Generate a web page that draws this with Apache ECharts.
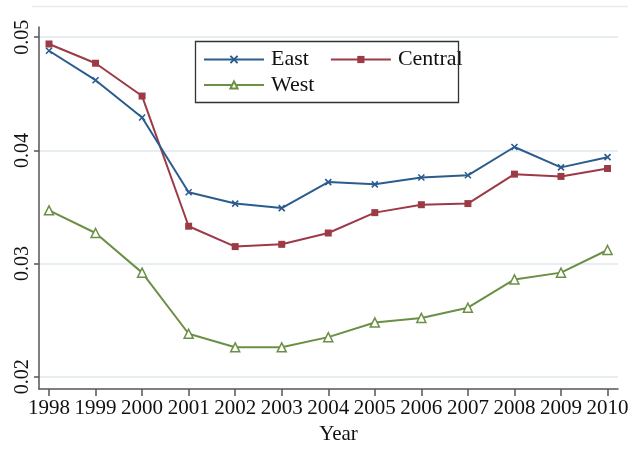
<!DOCTYPE html>
<html>
<head>
<meta charset="utf-8">
<script src="https://cdn.jsdelivr.net/npm/echarts@6/dist/echarts.min.js"></script>
<style>
  html, body { margin: 0; padding: 0; background: #fff; }
  #chart { width: 632px; height: 450px; }
</style>
</head>
<body>
<div id="chart"></div>
<script>
// Regional series by year
const years = [1998, 1999, 2000, 2001, 2002, 2003, 2004, 2005, 2006, 2007, 2008, 2009, 2010];
const east = [0.0488, 0.0462, 0.0429, 0.0363, 0.0353, 0.0349, 0.0372, 0.0370, 0.0376, 0.0378, 0.0403, 0.0385, 0.0394];
const central = [0.0494, 0.0477, 0.0448, 0.0333, 0.0315, 0.0317, 0.0327, 0.0345, 0.0352, 0.0353, 0.0379, 0.0377, 0.0384];
const west = [0.0347, 0.0327, 0.0292, 0.0238, 0.0226, 0.0226, 0.0235, 0.0248, 0.0252, 0.0261, 0.0286, 0.0292, 0.0312];
const yTicks = [0.02, 0.03, 0.04, 0.05];

const FONT = '"Liberation Serif", "DejaVu Serif", serif';
const C_EAST = '#2b5c8e';
const C_CENTRAL = '#9c3a46';
const C_WEST = '#6b8f45';

const pairs = vals => years.map((y, i) => [y, vals[i]]);

const chart = echarts.init(document.getElementById('chart'), null, { renderer: 'canvas' });

const legendCommon = {
  left: 203,
  padding: 0,
  itemWidth: 60,
  itemHeight: 9,
  itemGap: 21,
  textStyle: { fontFamily: FONT, fontSize: 22, color: '#111', padding: [0, 0, 0, 2] }
};

chart.setOption({
  animation: false,
  backgroundColor: '#fff',
  grid: { left: 39, right: 14, top: 27, bottom: 51, containLabel: false },
  legend: [
    Object.assign({}, legendCommon, { top: 48.5, data: ['East', 'Central'] }),
    Object.assign({}, legendCommon, { top: 74, data: ['West'] })
  ],
  graphic: [
    {
      type: 'line',
      shape: { x1: 32, y1: 6.5, x2: 628, y2: 6.5 },
      style: { stroke: '#e4ecf1', lineWidth: 1.5 },
      silent: true
    },
    {
      type: 'rect',
      shape: { x: 195.5, y: 41.5, width: 263, height: 61 },
      style: { fill: 'none', stroke: '#333', lineWidth: 1.3 },
      silent: true,
      z: 10
    }
  ],
  xAxis: {
    type: 'value',
    min: 1997.785,
    max: 2010.225,
    name: 'Year',
    nameLocation: 'middle',
    nameGap: 31,
    nameTextStyle: { fontFamily: FONT, fontSize: 21, color: '#111', padding: [0, 0, 0, 20] },
    axisLine: { show: true, onZero: false, lineStyle: { color: '#555', width: 1.5 } },
    axisTick: { show: true, length: 7, customValues: years, lineStyle: { color: '#555', width: 1.5 } },
    axisLabel: {
      customValues: years,
      margin: 9,
      fontFamily: FONT,
      fontSize: 21,
      color: '#111',
      formatter: v => String(Math.round(v))
    },
    splitLine: { show: false }
  },
  yAxis: {
    type: 'value',
    min: 0.01891,
    max: 0.0509,
    axisLine: { show: true, onZero: false, lineStyle: { color: '#555', width: 1.5 } },
    axisTick: { show: true, length: 5, customValues: yTicks, lineStyle: { color: '#555', width: 1.5 } },
    axisLabel: {
      customValues: yTicks,
      rotate: 90,
      margin: 6,
      fontFamily: FONT,
      fontSize: 20,
      color: '#111',
      formatter: v => v.toFixed(2)
    },
    splitLine: { show: true, lineStyle: { color: '#dfe8ee', width: 1.5 } }
  },
  series: [
    {
      name: 'East',
      type: 'line',
      data: pairs(east),
      symbol: 'path://M0,0L10,10M10,0L0,10',
      symbolSize: 6,
      showAllSymbol: true,
      lineStyle: { color: C_EAST, width: 2 },
      itemStyle: { color: C_EAST, borderColor: C_EAST, borderWidth: 1.6 },
      z: 3
    },
    {
      name: 'Central',
      type: 'line',
      data: pairs(central),
      symbol: 'rect',
      symbolSize: 7,
      showAllSymbol: true,
      lineStyle: { color: C_CENTRAL, width: 2 },
      itemStyle: { color: C_CENTRAL, borderColor: C_CENTRAL, borderWidth: 0 },
      z: 2
    },
    {
      name: 'West',
      type: 'line',
      data: pairs(west),
      symbol: 'triangle',
      symbolSize: 9,
      showAllSymbol: true,
      lineStyle: { color: C_WEST, width: 2 },
      itemStyle: { color: '#ffffff', borderColor: C_WEST, borderWidth: 1.5 },
      z: 2
    }
  ]
});
</script>
</body>
</html>
